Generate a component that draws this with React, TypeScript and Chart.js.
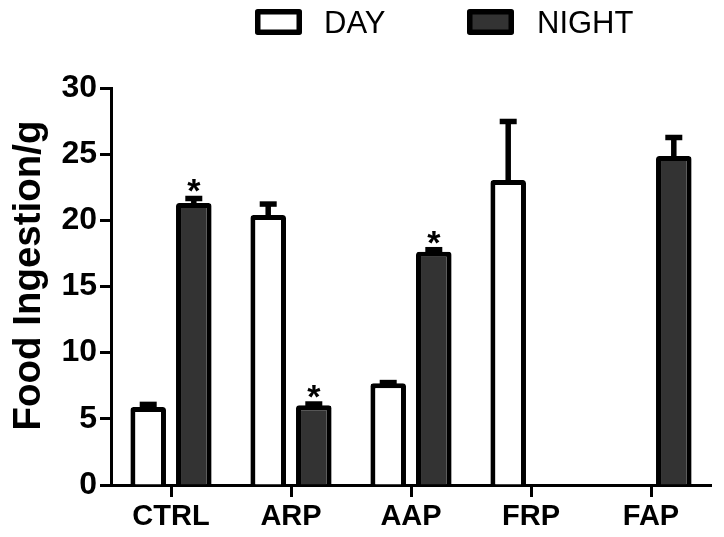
import React, { useEffect, useRef } from 'react';
import { Chart, registerables } from 'chart.js';

Chart.register(...registerables);

const categories = ['CTRL', 'ARP', 'AAP', 'FRP', 'FAP'];
const seriesNames = ['DAY', 'NIGHT'];
const dayValues = [5.89, 20.4, 7.69, 23.05, null];
const nightValues = [21.31, 6.02, 17.63, null, 24.86];
const dayErrors = [0.2, 0.83, 0.05, 4.42, null];
const nightErrors = [0.34, 0.1, 0.15, null, 1.4];
const nightSignificant = [true, true, true, false, false];
const yMin = 0;
const yMax = 30;
const yStep = 5;
const yTitle = 'Food Ingestion/g';

const FONT = "'Liberation Sans', Arial, Helvetica, sans-serif";
const DAY_FILL = '#ffffff';
const NIGHT_FILL = '#333333';
const EDGE = '#000000';

const errorBarPlugin = {
  id: 'errorBars',
  afterDatasetsDraw(chart: any) {
    const ctx = chart.ctx;
    const yScale = chart.scales.y;
    const errs = [dayErrors, nightErrors];
    ctx.save();
    chart.data.datasets.forEach((ds: any, di: number) => {
      const meta = chart.getDatasetMeta(di);
      meta.data.forEach((bar: any, i: number) => {
        const v = ds.data[i];
        const e = errs[di][i];
        if (v == null || e == null) return;
        const x = bar.x;
        const yCap = yScale.getPixelForValue(v + e);
        const yBar = bar.y;
        ctx.strokeStyle = EDGE;
        ctx.lineCap = 'butt';
        ctx.lineWidth = 5.5;
        ctx.beginPath();
        ctx.moveTo(x, yBar + 3);
        ctx.lineTo(x, yCap);
        ctx.stroke();
        ctx.beginPath();
        ctx.moveTo(x - 8.5, yCap);
        ctx.lineTo(x + 8.5, yCap);
        ctx.stroke();
        if (di === 1 && nightSignificant[i]) {
          ctx.fillStyle = EDGE;
          ctx.font = `bold 34px ${FONT}`;
          ctx.textAlign = 'center';
          ctx.textBaseline = 'alphabetic';
          ctx.fillText('*', x, yCap + 4);
        }
      });
    });
    ctx.restore();
  },
};

const overlayTextPlugin = {
  id: 'overlayText',
  afterDraw(chart: any) {
    const ctx = chart.ctx;
    const area = chart.chartArea;
    ctx.save();
    // y-axis title
    ctx.translate(29, (area.top + area.bottom) / 2 - 11);
    ctx.rotate(-Math.PI / 2);
    ctx.fillStyle = EDGE;
    ctx.font = `bold 38.5px ${FONT}`;
    ctx.textAlign = 'center';
    ctx.textBaseline = 'middle';
    ctx.fillText(yTitle, 0, 0);
    ctx.restore();

    // legend
    const items = [
      { label: seriesNames[0], fill: DAY_FILL, bx: 255, tx: 324 },
      { label: seriesNames[1], fill: NIGHT_FILL, bx: 467, tx: 537 },
    ];
    ctx.save();
    items.forEach((it) => {
      const w = 47;
      const h = 26;
      const top = 9;
      ctx.lineWidth = 5.5;
      ctx.strokeStyle = EDGE;
      ctx.fillStyle = it.fill;
      ctx.lineJoin = 'round';
      ctx.beginPath();
      ctx.rect(it.bx + 2.75, top + 2.75, w - 5.5, h - 5.5);
      ctx.fill();
      ctx.stroke();
      ctx.fillStyle = EDGE;
      ctx.font = `31px ${FONT}`;
      ctx.textAlign = 'left';
      ctx.textBaseline = 'alphabetic';
      ctx.fillText(it.label, it.tx, 33);
    });
    ctx.restore();
  },
};

export default function App() {
  const canvasRef = useRef<HTMLCanvasElement | null>(null);

  useEffect(() => {
    if (!canvasRef.current) return;
    const chart = new Chart(canvasRef.current, {
      type: 'bar',
      data: {
        labels: categories,
        datasets: [
          {
            label: seriesNames[0],
            data: dayValues,
            backgroundColor: DAY_FILL,
            borderColor: EDGE,
            borderWidth: 5,
            borderRadius: 3,
            borderSkipped: 'start',
          },
          {
            label: seriesNames[1],
            data: nightValues,
            backgroundColor: NIGHT_FILL,
            borderColor: EDGE,
            borderWidth: 5,
            borderRadius: 3,
            borderSkipped: 'start',
          },
        ],
      },
      options: {
        animation: false,
        responsive: false,
        devicePixelRatio: 1,
        layout: { padding: { top: 88, right: 13, left: 0, bottom: 0 } },
        datasets: {
          bar: { categoryPercentage: 0.76, barPercentage: 0.78 },
        },
        plugins: {
          legend: { display: false },
          tooltip: { enabled: false },
        },
        scales: {
          x: {
            grid: {
              display: true,
              offset: false,
              drawOnChartArea: false,
              drawTicks: true,
              tickLength: 12,
              tickWidth: 3,
              tickColor: EDGE,
            },
            border: { display: true, color: EDGE, width: 3 },
            ticks: {
              color: EDGE,
              padding: 3,
              font: { family: FONT, size: 29, weight: 'bold' },
            },
            afterFit(scale: any) {
              scale.height = 52;
            },
          },
          y: {
            min: yMin,
            max: yMax,
            grid: {
              display: true,
              drawOnChartArea: false,
              drawTicks: true,
              tickLength: 11,
              tickWidth: 3,
              tickColor: EDGE,
            },
            border: { display: true, color: EDGE, width: 3 },
            ticks: {
              stepSize: yStep,
              color: EDGE,
              padding: 3,
              font: { family: FONT, size: 32, weight: 'bold' },
            },
            title: { display: false },
            afterFit(scale: any) {
              scale.width = 111;
            },
          },
        },
      },
      plugins: [errorBarPlugin, overlayTextPlugin],
    } as any);
    return () => chart.destroy();
  }, []);

  return (
    <div style={{ position: 'absolute', left: 0, top: 0, width: 724, height: 537, background: '#fff' }}>
      <canvas ref={canvasRef} width={724} height={537} style={{ display: 'block' }} />
    </div>
  );
}
